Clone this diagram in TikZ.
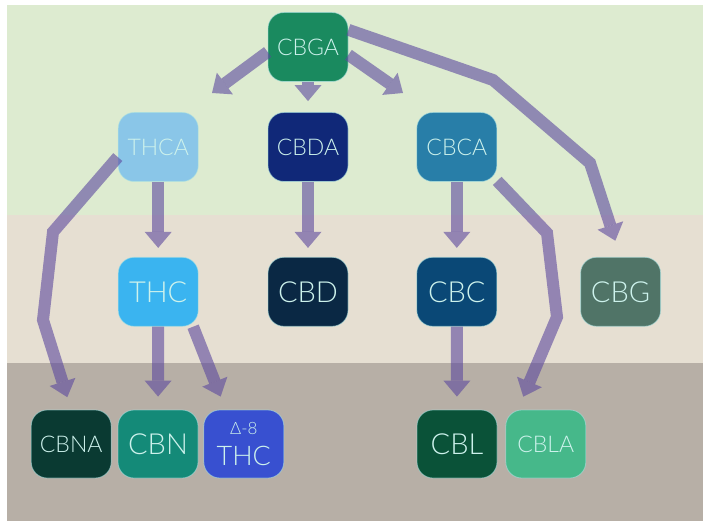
\documentclass[tikz,border=0pt]{standalone}
\usepackage{fontspec}
\setmainfont{Lato Light}
\usetikzlibrary{arrows.meta,positioning}

\definecolor{bggreen}{RGB}{221,235,208}
\definecolor{bgbeige}{RGB}{230,223,210}
\definecolor{bggrey}{RGB}{183,175,166}
\definecolor{flowpurple}{RGB}{92,72,158}
\definecolor{labeltext}{RGB}{205,242,236}
\definecolor{rimcyan}{RGB}{170,225,225}
\definecolor{cbgacol}{RGB}{26,138,95}
\definecolor{thcacol}{RGB}{138,198,232}
\definecolor{cbdacol}{RGB}{16,40,120}
\definecolor{cbcacol}{RGB}{40,126,168}
\definecolor{thccol}{RGB}{58,180,240}
\definecolor{cbdcol}{RGB}{10,40,68}
\definecolor{cbccol}{RGB}{10,72,118}
\definecolor{cbgcol}{RGB}{80,116,103}
\definecolor{cbnacol}{RGB}{10,58,50}
\definecolor{cbncol}{RGB}{20,138,120}
\definecolor{deltacol}{RGB}{56,80,208}
\definecolor{cblcol}{RGB}{10,82,56}
\definecolor{cblacol}{RGB}{70,184,138}

\tikzset{
  smalltxt/.style={font=\fontsize{23}{23}\selectfont},
  bigtxt/.style={font=\fontsize{29}{29}\selectfont}
}

\begin{document}
\begin{tikzpicture}[x=1pt,y=-1pt]
	\useasboundingbox (0,0) rectangle (703,521);
	\fill[bggreen] (7,5) rectangle (703,215);
	\fill[bgbeige] (7,215) rectangle (703,363);
	\fill[bggrey] (7,363) rectangle (703,521);

	\begin{scope}[every node/.style={rectangle,rounded corners=16pt,draw=rimcyan,draw opacity=0.6,line width=0.8pt,minimum width=80pt,minimum height=69pt,inner sep=0pt,text=labeltext}]
		\node[fill=cbgacol,smalltxt] (CBGA) at (308,47) {CBGA};
		\node[fill=cbdacol,smalltxt] (CBDA) at (308,147) {CBDA};
		\node[fill=thcacol,smalltxt,left =69pt of CBDA] (THCA) {THCA};
		\node[fill=cbcacol,smalltxt,right =68pt of CBDA] (CBCA) {CBCA};
		\node[fill=thccol,bigtxt,below =75pt of THCA] (THC) {THC};
		\node[fill=cbdcol,bigtxt,below =75pt of CBDA] (CBD) {CBD};
		\node[fill=cbccol,bigtxt,below =75pt of CBCA] (CBC) {CBC};
		\node[fill=cbgcol,bigtxt,right =83pt of CBC] (CBG) {CBG};
		\node[fill=cbncol,bigtxt,minimum height=68pt] (CBN) at (158,444) {CBN};
		\node[fill=cbnacol,smalltxt,minimum height=68pt,left =6pt of CBN] (CBNA) {CBNA};
		\node[fill=deltacol,minimum height=68pt,align=center,font=\fontsize{27}{31}\selectfont,right =5pt of CBN] (D8THC) {{\fontsize{17}{17}\selectfont Δ-8}\\THC};
		\node[fill=cblcol,bigtxt,minimum height=68pt] (CBL) at (457,444) {CBL};
		\node[fill=cblacol,smalltxt,minimum height=68pt,right =8pt of CBL] (CBLA) {CBLA};
	\end{scope}

	\coordinate (toTHCA) at (212,93);
	\coordinate (toCBCA) at (403,93);

	\begin{scope}[draw=flowpurple,opacity=0.6,line width=12pt,-{Triangle[width=27pt,length=16pt,line width=0pt]}]
	\draw (CBGA.187) -- (toTHCA);
	\draw[shorten >=11pt] (CBGA) -- (CBDA);
	\draw (CBGA.-11) -- (toCBCA);
	\draw[shorten >=17pt] (CBGA.23) -- (493,80) -- (590,163) -- (CBG.north);
	\draw[shorten >=9pt] (THCA) -- (THC);
	\draw[shorten >=13pt] (THCA.194) -- (53,232) -- (43,320) -- (CBNA.north);
	\draw[shorten >=9pt] (CBDA) -- (CBD);
	\draw[shorten >=9pt] (CBCA) -- (CBC);
	\draw[shorten >=14pt] (CBCA.-40) -- (547,233) -- (557,317) -- ([xshift=-28pt]CBLA.north);
	\draw[shorten >=13pt] (THC) -- (CBN);
	\draw[shorten >=14pt] (THC.-45) -- ([xshift=-18pt]D8THC.north);
	\draw[shorten >=13pt] (CBC) -- (CBL);
	\end{scope}
\end{tikzpicture}
\end{document}
